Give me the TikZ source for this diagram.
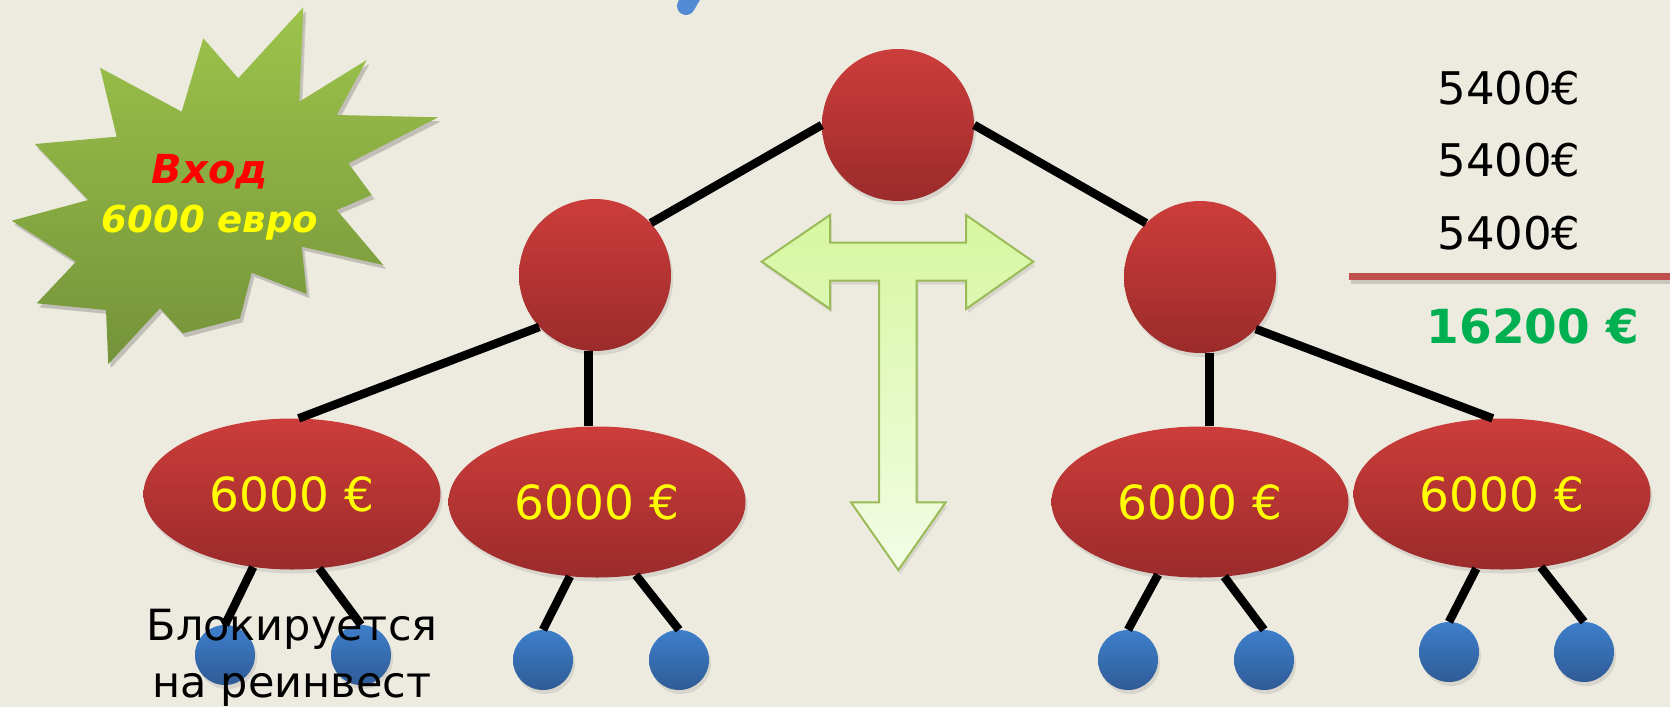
\documentclass[tikz,border=0pt]{standalone}
\usepackage{fontspec}
\setmainfont{DejaVu Sans}
\usetikzlibrary{shapes.geometric,shadows}
\definecolor{bg}{HTML}{EDEBE0}
\definecolor{redtop}{HTML}{CC3D3A}
\definecolor{redbot}{HTML}{9B2B2B}
\definecolor{bluetop}{HTML}{3E7FCB}
\definecolor{bluebot}{HTML}{2F5B96}
\definecolor{startop}{HTML}{9DC44B}
\definecolor{starbot}{HTML}{74933A}
\definecolor{ttop}{HTML}{D6F7A0}
\definecolor{tbot}{HTML}{F3FCE6}
\definecolor{tborder}{HTML}{9BBB59}
\definecolor{sumgreen}{HTML}{00B050}
\definecolor{barred}{HTML}{C0504D}
\definecolor{titleblue}{HTML}{528BD4}
\definecolor{txtyellow}{HTML}{FFFF00}
\definecolor{txtred}{HTML}{FF0000}
\begin{document}
\begin{tikzpicture}[x=1pt,y=-1pt,
  shade/.style={drop shadow={opacity=0.2,shadow xshift=2pt,shadow yshift=-4pt}},
  redball/.style={circle,minimum size=152pt,inner sep=0pt,top color=redtop,bottom color=redbot,shade},
  redegg/.style={ellipse,minimum width=297pt,minimum height=151pt,inner sep=0pt,top color=redtop,bottom color=redbot,shade,text=txtyellow,font=\fontsize{47}{56}\selectfont},
  blueball/.style={circle,minimum size=60pt,inner sep=0pt,top color=bluetop,bottom color=bluebot,shade},
  link/.style={line width=8.5pt,black},
  amount/.style={font=\fontsize{45}{54}\selectfont,text=black}]
\fill[bg] (0,0) rectangle (1670,707);
\useasboundingbox (0,0) rectangle (1670,707);
% title fragment
\draw[line width=18pt,line cap=round,titleblue] (693,-6) -- (686,6);
% starburst shadow and body
\fill[black,opacity=0.12] ([shift={(3,4)}]303.3,7.3) -- ([shift={(3,4)}]238.3,78.3) -- ([shift={(3,4)}]203.3,38.3) -- ([shift={(3,4)}]181.7,111.7) -- ([shift={(3,4)}]100,67.7) -- ([shift={(3,4)}]116.7,136.7) -- ([shift={(3,4)}]35,144) -- ([shift={(3,4)}]88.3,200) -- ([shift={(3,4)}]11.7,220.7) -- ([shift={(3,4)}]76,261.7) -- ([shift={(3,4)}]36.7,303.3) -- ([shift={(3,4)}]106,310) -- ([shift={(3,4)}]108.3,364) -- ([shift={(3,4)}]160,308.3) -- ([shift={(3,4)}]182.7,333.3) -- ([shift={(3,4)}]240,318.3) -- ([shift={(3,4)}]251.7,272.7) -- ([shift={(3,4)}]306.7,294) -- ([shift={(3,4)}]301.7,246.7) -- ([shift={(3,4)}]383.3,265) -- ([shift={(3,4)}]336.7,210) -- ([shift={(3,4)}]371.7,195) -- ([shift={(3,4)}]348.3,163.3) -- ([shift={(3,4)}]438.3,117.3) -- ([shift={(3,4)}]336.7,115) -- ([shift={(3,4)}]366.7,60) -- ([shift={(3,4)}]299.3,101.7) -- cycle;
\shade[top color=startop,bottom color=starbot] (303.3,7.3) -- (238.3,78.3) -- (203.3,38.3) -- (181.7,111.7) -- (100,67.7) -- (116.7,136.7) -- (35,144) -- (88.3,200) -- (11.7,220.7) -- (76,261.7) -- (36.7,303.3) -- (106,310) -- (108.3,364) -- (160,308.3) -- (182.7,333.3) -- (240,318.3) -- (251.7,272.7) -- (306.7,294) -- (301.7,246.7) -- (383.3,265) -- (336.7,210) -- (371.7,195) -- (348.3,163.3) -- (438.3,117.3) -- (336.7,115) -- (366.7,60) -- (299.3,101.7) -- cycle;
\node[font=\bfseries\itshape\fontsize{40}{49}\selectfont,align=center] (entry) at (210,197) {\textcolor{txtred}{Вход}\\\textcolor{txtyellow}{\fontsize{37}{49}\selectfont 6000 евро}};
% T arrow
\shade[top color=ttop,bottom color=tbot,draw=tborder,line width=2pt,line join=miter]
  (761.7,261.7) -- (830,215) -- (830,242.7) -- (966,242.7) -- (966,215) -- (1033.3,261.7)
  -- (966,309) -- (966,280.7) -- (916.7,280.7) -- (916.7,502.3) -- (945.7,502.3) -- (898.3,570)
  -- (851,502.3) -- (879,502.3) -- (879,280.7) -- (830,280.7) -- (830,309) -- cycle;
% tree
\node[redball] (top) at (898,125) {};
\node[redball] (ml) at (595,275) {};
\node[redball] (mr) at (1200,277) {};
\node[redegg] (e1) at (292,494) {6000 €};
\node[redegg] (e2) at (597,502) {6000 €};
\node[redegg] (e3) at (1200,502) {6000 €};
\node[redegg] (e4) at (1502,494) {6000 €};
\node[blueball] (b1) at (225,655) {};
\node[blueball] (b2) at (361,655) {};
\node[blueball] (b3) at (543,660) {};
\node[blueball] (b4) at (679,660) {};
\node[blueball] (b5) at (1128,660) {};
\node[blueball] (b6) at (1264,660) {};
\node[blueball] (b7) at (1449,652) {};
\node[blueball] (b8) at (1584,652) {};
\draw[link] (top.180) -- (ml.43);
\draw[link] (top.0) -- (mr.135);
\draw[link] (ml.223) -- (e1.85);
\draw[link] (ml.-95) -- (ml.-95 |- e2.north);
\draw[link] (mr.-83) -- (mr.-83 |- e3.north);
\draw[link] (mr.-43) -- (e4.97);
\draw[link] (e1.-118) -- (b1.north);
\draw[link] (e1.-70) -- (b2.north);
\draw[link] (e2.-110) -- (b3.north);
\draw[link] (e2.-62) -- (b4.north);
\draw[link] (e3.-120) -- (b5.north);
\draw[link] (e3.-72) -- (b6.north);
\draw[link] (e4.-109) -- (b7.north);
\draw[link] (e4.-62) -- (b8.north);
% caption under left egg
\node[font=\fontsize{43}{57}\selectfont,align=center] (blk) at (292,658) {Блокируется\\на реинвест};
% sums
\node[amount] (s1) at (1509,88) {5400€};
\node[amount] (s2) at (1509,160) {5400€};
\node[amount] (s3) at (1509,233) {5400€};
\coordinate (la) at (1349,276);
\coordinate (lb) at (1670,276);
\draw[line width=7pt,black,opacity=0.15] ([shift={(2,4)}]la) -- ([shift={(2,4)}]lb);
\draw[line width=7pt,barred] (la) -- (lb);
\node[font=\bfseries\fontsize{47}{56}\selectfont,text=sumgreen] (sum) at (1533,326) {16200 €};
\end{tikzpicture}
\end{document}
